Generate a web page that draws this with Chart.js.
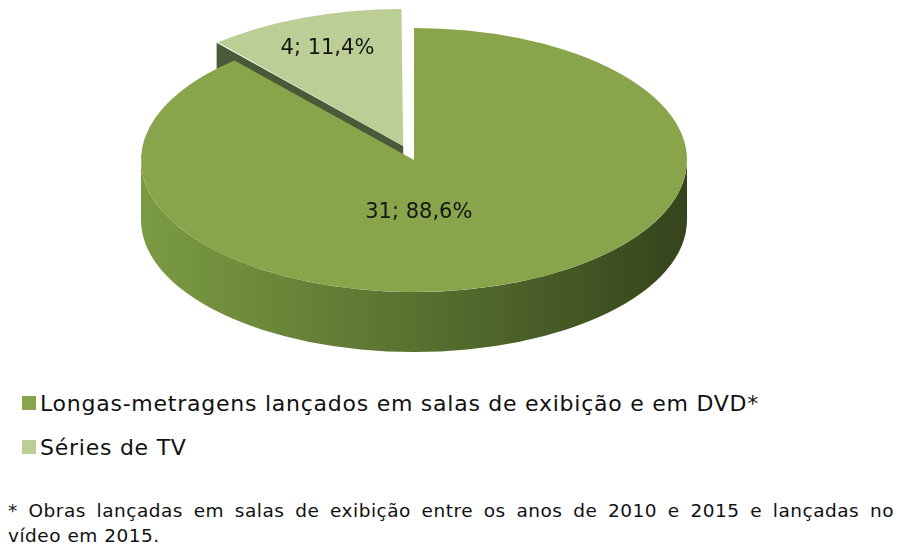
<!DOCTYPE html>
<html>
<head>
<meta charset="utf-8">
<script src="https://cdn.jsdelivr.net/npm/chart.js@4.4.0/dist/chart.umd.min.js"></script>
<style>
html, body { margin: 0; padding: 0; background: #fff; }
body { width: 898px; height: 544px; position: relative; overflow: hidden; font-family: "DejaVu Sans", sans-serif; color: #111; }
#wrap { position: absolute; left: 0; top: 0; width: 898px; height: 380px; }
#legend { position: absolute; left: 22px; top: 381px; font-size: 22px; letter-spacing: 0.75px; }
#legend .item { height: 44px; display: flex; align-items: center; white-space: nowrap; }
#legend .box { width: 14px; height: 14px; margin-right: 4px; }
#note { position: absolute; left: 8px; top: 498px; width: 886px; font-size: 18.5px; line-height: 25px; letter-spacing: 0.5px; }
#note .l1 { text-align: justify; text-align-last: justify; }
</style>
</head>
<body>
<div id="wrap"><canvas id="pieChart"></canvas></div>
<div id="legend"></div>
<div id="note">
  <div class="l1">* Obras lançadas em salas de exibição entre os anos de 2010 e 2015 e lançadas no</div>
  <div>vídeo em 2015.</div>
</div>
<script>
const labels = ['Longas-metragens lançados em salas de exibição e em DVD*', 'Séries de TV'];
const counts = [31, 4];
const topColors = ['#88a54c', '#bbce96'];
const explode = [0, 70];
const labelFrac = [0.05, 0.76];
const labelDy = [46, 0];

// screen ellipse of the top face
const CX = 414, CY = 160, RX = 273, RY = 132, DEPTH = 60;

const total = counts.reduce((a, b) => a + b, 0);

function arcGeom(arc){
    let off = (arc.options.offset || 0) / 4;
    let mid = (arc.startAngle + arc.endAngle) / 2;
    let circ = arc.endAngle - arc.startAngle;
    let fix = 1 - Math.sin(Math.min(Math.PI, circ));
    return {
        x: arc.x + Math.cos(mid) * off,
        y: arc.y + Math.sin(mid) * off,
        r: arc.outerRadius + off * fix,
        a0: arc.startAngle,
        a1: arc.endAngle,
        mid: mid
    };
}

function drawSides(ctx, g, d){
    // outer wall, front half only (0..PI)
    let s = Math.max(g.a0, 0), e = Math.min(g.a1, Math.PI);
    if(e > s){
        let grad = ctx.createLinearGradient(g.x - g.r, 0, g.x + g.r, 0);
        grad.addColorStop(0, '#7b9b43');
        grad.addColorStop(0.5, '#587230');
        grad.addColorStop(1, '#35441c');
        ctx.beginPath();
        ctx.arc(g.x, g.y, g.r, s, e);
        ctx.lineTo(g.x + g.r * Math.cos(e), g.y + g.r * Math.sin(e) + d);
        ctx.arc(g.x, g.y + d, g.r, e, s, true);
        ctx.closePath();
        ctx.fillStyle = grad;
        ctx.fill();
    }
    // radial faces that look toward the viewer
    [[g.a0, g.a0 - Math.PI / 2], [g.a1, g.a1 + Math.PI / 2]].forEach(function(f){
        if(Math.sin(f[1]) > 0.05){
            let px = g.x + g.r * Math.cos(f[0]);
            let py = g.y + g.r * Math.sin(f[0]);
            ctx.beginPath();
            ctx.moveTo(g.x, g.y);
            ctx.lineTo(px, py);
            ctx.lineTo(px, py + d);
            ctx.lineTo(g.x, g.y + d);
            ctx.closePath();
            ctx.fillStyle = '#4a5a38';
            ctx.fill();
        }
    });
}

const pie3d = {
    id: 'pie3d',
    beforeDatasetsDraw(chart){
        let ctx = chart.ctx;
        let meta = chart.getDatasetMeta(0);
        let base = meta.data[0];
        let sx = RX / base.outerRadius, sy = RY / base.outerRadius;
        ctx.save();
        ctx.translate(CX, CY);
        ctx.scale(sx, sy);
        ctx.translate(-base.x, -base.y);
        let d = DEPTH / sy;
        // back (exploded) slice first, front slice last
        for(let i = meta.data.length - 1; i >= 0; i--){
            drawSides(ctx, arcGeom(meta.data[i]), d);
        }
    },
    afterDatasetsDraw(chart){
        let ctx = chart.ctx;
        ctx.restore();
        let meta = chart.getDatasetMeta(0);
        let base = meta.data[0];
        let sx = RX / base.outerRadius, sy = RY / base.outerRadius;
        ctx.save();
        ctx.font = '21px "DejaVu Sans"';
        ctx.fillStyle = '#151515';
        ctx.textAlign = 'center';
        ctx.textBaseline = 'middle';
        meta.data.forEach(function(arc, i){
            let g = arcGeom(arc);
            let px = g.x + Math.cos(g.mid) * g.r * labelFrac[i];
            let py = g.y + Math.sin(g.mid) * g.r * labelFrac[i];
            let X = CX + sx * (px - base.x);
            let Y = CY + sy * (py - base.y) + labelDy[i];
            let pct = (counts[i] * 100 / total).toFixed(1).replace('.', ',');
            ctx.fillText(counts[i] + '; ' + pct + '%', X, Y);
        });
        ctx.restore();
    }
};

let ctx = document.getElementById('pieChart').getContext('2d');
let pieChart = new Chart(ctx, {
    type: 'pie',
    data: {
        labels: labels,
        datasets: [{
            data: counts,
            backgroundColor: topColors,
            borderWidth: 0,
            offset: explode,
            clip: false
        }]
    },
    options: {
        responsive: true,
        maintainAspectRatio: false,
        animation: false,
        events: [],
        plugins: {
            legend: { display: false },
            tooltip: { enabled: false }
        }
    },
    plugins: [pie3d]
});

// html legend from the chart's own labels
let legendEl = document.getElementById('legend');
pieChart.data.labels.forEach(function(lbl, i){
    let item = document.createElement('div');
    item.className = 'item';
    let box = document.createElement('span');
    box.className = 'box';
    box.style.background = topColors[i];
    let txt = document.createElement('span');
    txt.textContent = lbl;
    item.appendChild(box);
    item.appendChild(txt);
    legendEl.appendChild(item);
});
</script>
</body>
</html>
